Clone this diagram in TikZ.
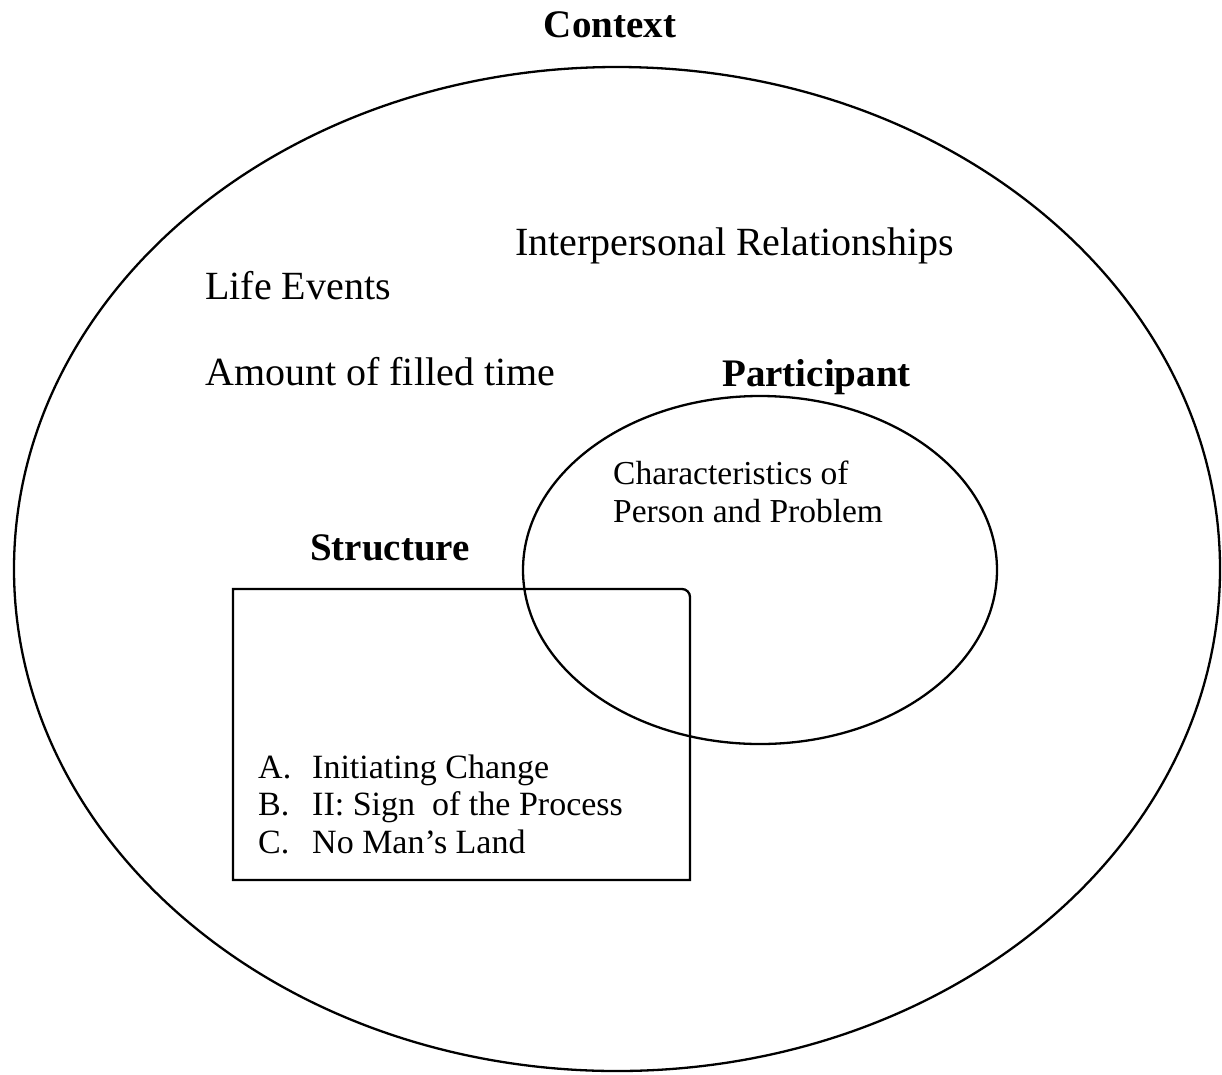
\documentclass[tikz,border=0pt]{standalone}
\usepackage{fontspec}
\setmainfont{Liberation Serif}
\usetikzlibrary{shapes.geometric}
\tikzset{
  lbl/.style={anchor=base west, inner sep=0pt, font=\fontsize{40}{48}\selectfont},
  hdr/.style={anchor=base west, inner sep=0pt, font=\fontsize{39}{46}\selectfont\bfseries},
  small/.style={anchor=base west, inner sep=0pt, font=\fontsize{33.5}{38}\selectfont},
  item/.style={anchor=base west, inner sep=0pt, font=\fontsize{34}{38}\selectfont},
  outline/.style={draw=black, line width=2.3pt, inner sep=0pt, outer sep=0pt},
}
\begin{document}
\begin{tikzpicture}[x=1pt,y=-1pt]
\useasboundingbox (0,0) rectangle (1222,1074);
% outer context ellipse
\node[outline, ellipse, minimum width=1206pt, minimum height=1004pt] (context) at (617,569) {};
% participant ellipse
\node[outline, ellipse, minimum width=474pt, minimum height=348pt] (participant) at (760,570) {};
% structure box, rounded only at the top right corner
\draw[line width=2.3pt] (233,880) -- (233,589) -- (682,589)
  arc[start angle=90, end angle=0, radius=8pt] -- (690,880) -- cycle;

\node[hdr, anchor=base] (tcontext) at (610,37) {Context};
\node[lbl] (tinter) at (515,255) {Interpersonal Relationships};
\node[lbl] (tlife) at (205,299) {Life Events};
\node[lbl] (tamount) at (205,385) {Amount of filled time};
\node[hdr] (tpart) at (722,386) {Participant};
\node[small] (tchar1) at (613,484) {Characteristics of};
\node[small] (tchar2) at (613,522) {Person and Problem};
\node[hdr] (tstruct) at (310,560) {Structure};
\node[item] (la) at (258,778) {A.};
\node[item] (ta) at (312,778) {Initiating Change};
\node[item] (lb) at (258,815) {B.};
\node[item] (tb) at (312,815) {II: Sign\ \ of the Process};
\node[item] (lc) at (258,853) {C.};
\node[item] (tc) at (312,853) {No Man’s Land};
\end{tikzpicture}
\end{document}
